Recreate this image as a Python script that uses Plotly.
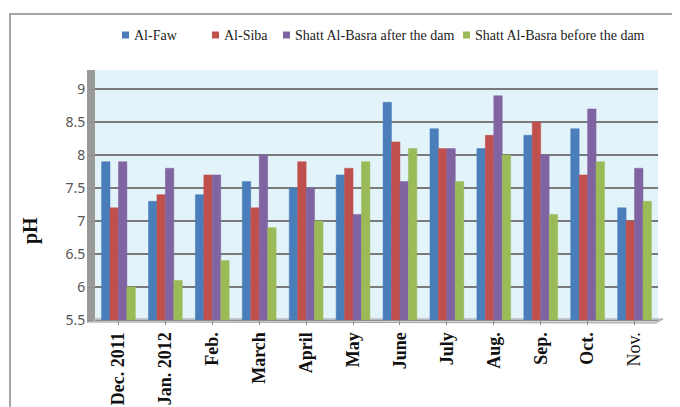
import plotly.graph_objects as go

months = ["Dec. 2011", "Jan. 2012", "Feb.", "March", "April", "May", "June",
          "July", "Aug.", "Sep.", "Oct.", "Nov."]
al_faw = [7.9, 7.3, 7.4, 7.6, 7.5, 7.7, 8.8, 8.4, 8.1, 8.3, 8.4, 7.2]
al_siba = [7.2, 7.4, 7.7, 7.2, 7.9, 7.8, 8.2, 8.1, 8.3, 8.5, 7.7, 7.0]
shatt_after = [7.9, 7.8, 7.7, 8.0, 7.5, 7.1, 7.6, 8.1, 8.9, 8.0, 8.7, 7.8]
shatt_before = [6.0, 6.1, 6.4, 6.9, 7.0, 7.9, 8.1, 7.6, 8.0, 7.1, 7.9, 7.3]
y_ticks = [5.5, 6, 6.5, 7, 7.5, 8, 8.5, 9]

series = [
    ("Al-Faw", al_faw, "#4a7ebb"),
    ("Al-Siba", al_siba, "#c0504d"),
    ("Shatt Al-Basra after the dam", shatt_after, "#8064a2"),
    ("Shatt Al-Basra before the dam", shatt_before, "#9bbb59"),
]

fig = go.Figure()
for name, vals, col in series:
    fig.add_trace(go.Bar(
        x=months, y=[v - 5.5 for v in vals], base=5.5, name=name,
        marker=dict(color=col, line=dict(color=col, width=0.5)),
        hovertext=[str(v) for v in vals], showlegend=False,
    ))

# page has an 8px body margin: figure occupies screen 8..680 x 8..407
OFF = 8
FW, FH = 680 - OFF, 407 - OFF
# plot-area geometry in screen pixels
SL, SR, ST, SB = 95, 658, 70, 320
L, T = SL - OFF, ST - OFF
R, B = FW - (SR - OFF), FH - (SB - OFF)
W, H = SR - SL, SB - ST

def px(x):
    return (x - SL) / W

def py(y):
    return (SB - y) / H

shapes = [
    # left 3D wall
    dict(type="rect", xref="paper", yref="paper", x0=px(87), x1=px(95),
         y0=py(322), y1=py(70), fillcolor="#9a9a9a", line=dict(width=0), layer="below"),
    # floor
    dict(type="path", xref="paper", yref="paper",
         path=f"M {px(87)} {py(322)} L {px(95)} {py(319)} L {px(663)} {py(319)} L {px(656)} {py(323)} Z",
         fillcolor="#d0d8dc", line=dict(color="#a0a0a0", width=1), layer="below"),
    # outer frame
    dict(type="rect", xref="paper", yref="paper", x0=px(10), x1=px(684),
         y0=py(412), y1=py(14), line=dict(color="#a6a6a6", width=2),
         fillcolor="rgba(0,0,0,0)"),
]

# manual legend (icon square + text), positions in screen pixels
legend_pos = [122, 212, 283, 463]
annotations = []
for (name, vals, col), lx in zip(series, legend_pos):
    shapes.append(dict(type="rect", xref="paper", yref="paper",
                       x0=px(lx), x1=px(lx + 7), y0=py(38.5), y1=py(31.5),
                       fillcolor=col, line=dict(width=0)))
    annotations.append(dict(xref="paper", yref="paper", x=px(lx + 10), y=py(35),
                            xanchor="left", yanchor="middle", showarrow=False,
                            text=name, font=dict(family="Liberation Serif", size=14, color="#222")))

annotations.append(dict(xref="paper", yref="paper", x=px(30), y=py(231),
                        xanchor="center", yanchor="middle", showarrow=False,
                        text="<b>pH</b>", textangle=-90,
                        font=dict(family="Liberation Serif", size=20, color="#111")))

tick_text = [f"<b>{m}</b>" if m != "Nov." else m for m in months]

fig.update_layout(
    width=FW, height=FH,
    margin=dict(l=L, r=R, t=T, b=B),
    paper_bgcolor="white",
    plot_bgcolor="#e3f3fa",
    barmode="group", bargap=0.28, bargroupgap=0,
    shapes=shapes, annotations=annotations,
    showlegend=False,
    xaxis=dict(
        tickangle=-90, showgrid=False, showline=True, linecolor="#8c8c8c",
        ticks="outside", ticklen=4, tickcolor="#8c8c8c", automargin=False,
        tickvals=months, ticktext=tick_text,
        tickfont=dict(family="Liberation Serif", size=18, color="#111"),
    ),
    yaxis=dict(
        range=[5.5, 9.29], tickvals=y_ticks, ticktext=[f"{v:g}" for v in y_ticks],
        showgrid=True, gridcolor="#7a7a7a", gridwidth=1.5, automargin=False,
        showline=False, ticks="outside", ticklen=6, tickcolor="#8c8c8c",
        tickfont=dict(family="Noto Sans", size=14, color="#555"),
        zeroline=False,
    ),
)

fig.write_html("out.html")
